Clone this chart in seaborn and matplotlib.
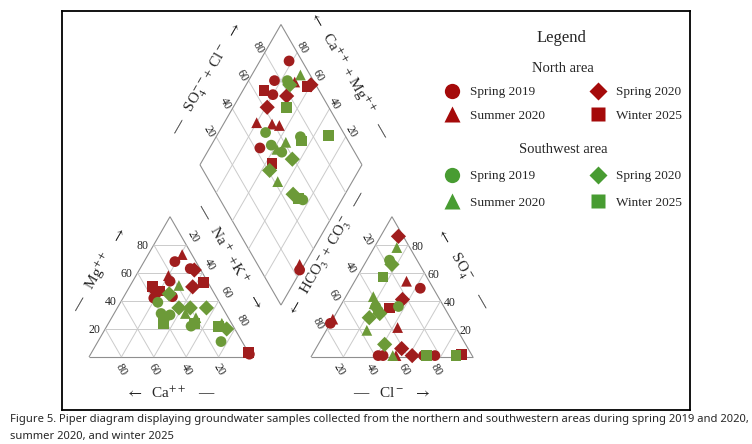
import numpy as np
import pandas as pd
import matplotlib
matplotlib.use('Agg')
import matplotlib.pyplot as plt
import seaborn as sns
from matplotlib.lines import Line2D


# Piper diagram of groundwater samples, north vs southwest area

RED = '#a01d1d'
GREEN = '#6c9a38'
LEG_RED = '#a50a0a'
LEG_GREEN = '#489c32'
PALETTE = {'North': RED, 'Southwest': GREEN}
MARKERS = {'Spring 2019': 'o', 'Spring 2020': 'D', 'Summer 2020': '^', 'Winter 2025': 's'}
SEASONS = ['Spring 2019', 'Spring 2020', 'Summer 2020', 'Winter 2025']


def rep(counts):
    out = []
    for s, n in zip(SEASONS, counts):
        out += [s] * n
    return out


# cation triangle (% meq), Na+K is the remainder
cat_area = ['North'] * 15 + ['Southwest'] * 18
cat_season = rep([6, 3, 2, 4]) + rep([6, 5, 4, 3])
cat_ca = [13, 6, 23, 39, 27, 0, 4, 11, 35, 6, 22, 3, 36, 33, 0,
          38, 40, 35, 40, 26, 13, 28, 27, 20, 10, 5, 19, 25, 20, 6, 42, 23, 9]
cat_mg = [68, 63, 54, 42, 43, 2, 62, 50, 46, 73, 58, 53, 50, 47, 3,
          39, 31, 30, 27, 22, 11, 45, 35, 35, 35, 20, 51, 31, 28, 24, 24, 24, 22]

# anion triangle (% meq), HCO3+CO3 is the remainder
an_area = ['North'] * 16 + ['Southwest'] * 16
an_season = rep([6, 4, 4, 2]) + rep([4, 4, 5, 3])
an_cl = [43, 0, 41, 44, 69, 76, 11, 36, 53, 62, 32, 0, 43, 52, 31, 92,
         14, 36, 22, 25, 17, 27, 22, 41, 14, 17, 20, 25, 50, 16, 71, 89]
an_so4 = [49, 24, 1, 1, 1, 1, 86, 41, 6, 1, 54, 27, 21, 1, 35, 2,
          69, 36, 36, 33, 66, 31, 28, 9, 78, 43, 38, 19, 1, 57, 1, 1]

# diamond field: SO4+Cl and Ca+Mg (%)
dia_area = ['North'] * 16 + ['Southwest'] * 18
dia_season = rep([5, 3, 5, 3]) + rep([6, 4, 4, 4])
dia_so4cl = [92, 76, 70, 43, 24, 97, 78, 62, 88, 50, 59, 63, 26, 66, 94, 45,
             84, 52, 72, 51, 55, 51, 84, 59, 41, 47, 94, 61, 42, 53, 74, 71, 90, 49]
dia_camg = [82, 84, 80, 69, 1, 60, 71, 79, 71, 80, 70, 65, 3, 87, 62, 56,
            76, 71, 48, 63, 54, 24, 73, 45, 55, 32, 70, 55, 46, 58, 67, 46, 31, 27]

H = np.sqrt(3) / 2
GAP = 0.37
PX = 1 / 162.0
SERIF = ['Liberation Serif', 'DejaVu Serif']
RA = r'$\rightarrow$'
LA = r'$\leftarrow$'


def cation_xy(ca, mg):
    ca, mg = np.asarray(ca, float), np.asarray(mg, float)
    na = 100 - ca - mg
    return (na + mg / 2) / 100, mg / 100 * H


def anion_xy(cl, so4):
    cl, so4 = np.asarray(cl, float), np.asarray(so4, float)
    return 1 + GAP + (cl + so4 / 2) / 100, so4 / 100 * H


def diamond_xy(a, c):
    a, c = np.asarray(a, float), np.asarray(c, float)
    return 1 + GAP / 2 + (a - c) / 200, GAP * H + (a + c) / 100 * H


def seg(ax, p, q, outer=False):
    ax.plot([p[0], q[0]], [p[1], q[1]], color='#8f8f8f' if outer else '#cbcbcb',
            lw=0.8 if outer else 0.7, zorder=1, solid_capstyle='butt')


def draw_grid(ax):
    for v in range(0, 100, 20):
        o = v == 0
        seg(ax, cation_xy(100 - v, v), cation_xy(0, v), o)
        seg(ax, cation_xy(v, 0), cation_xy(v, 100 - v), o)
        seg(ax, cation_xy(100 - v, 0), cation_xy(0, 100 - v), o)
        seg(ax, anion_xy(0, v), anion_xy(100 - v, v), o)
        seg(ax, anion_xy(v, 0), anion_xy(v, 100 - v), o)
        seg(ax, anion_xy(100 - v, 0), anion_xy(0, 100 - v), o)
    for v in range(0, 101, 20):
        o = v in (0, 100)
        seg(ax, diamond_xy(v, 0), diamond_xy(v, 100), o)
        seg(ax, diamond_xy(0, v), diamond_xy(100, v), o)


def tick(ax, p, dx, dy, s, rot=0, ha='center'):
    ax.text(p[0] + dx * PX, p[1] + dy * PX, s, rotation=rot, ha=ha, va='center',
            rotation_mode='anchor', fontsize=8.5, family=SERIF)


def draw_ticks(ax):
    for v in (20, 40, 60, 80):
        t = str(v)
        tick(ax, cation_xy(100 - v, v), -5, -1, t, ha='right')
        tick(ax, cation_xy(v, 0), 0, -13, t, rot=-60)
        tick(ax, cation_xy(0, 100 - v), 7, 8, t, rot=-60)
        tick(ax, anion_xy(0, 100 - v), -9, 5, t, rot=-60)
        tick(ax, anion_xy(100 - v, v), 3, -2, t, ha='left')
        tick(ax, anion_xy(v, 0), -4, -13, t, rot=-60)
        tick(ax, diamond_xy(v, 100), -7, 5, t, rot=-60)
        tick(ax, diamond_xy(100, v), 5, 5, t, rot=-60)


def title(ax, p0, p1, frac, normal, dist, s, rot):
    x = p0[0] + frac * (p1[0] - p0[0]) + normal[0] * dist * PX
    y = p0[1] + frac * (p1[1] - p0[1]) + normal[1] * dist * PX
    ax.text(x, y, s, rotation=rot, ha='center', va='center', rotation_mode='anchor',
            fontsize=11, family=SERIF)


def draw_titles(ax):
    L, R = (-H, 0.5), (H, 0.5)
    title(ax, cation_xy(100, 0), cation_xy(0, 100), 0.5, L, 34,
          '—   Mg$^{++}$   ' + RA, 60)
    title(ax, cation_xy(50, 0), cation_xy(50, 0), 0, (0, -1), 36,
          LA + '  Ca$^{++}$   —', 0)
    title(ax, cation_xy(0, 100), cation_xy(0, 0), 0.4, R, 32,
          '—   Na$^+$ +K$^+$   ' + RA, -60)
    title(ax, anion_xy(0, 0), anion_xy(0, 100), 0.6, L, 36,
          LA + '  HCO$_3^-$+ CO$_3^-$   —', 60)
    title(ax, anion_xy(0, 100), anion_xy(100, 0), 0.49, R, 34,
          LA + '   SO$_4^-$    —', -60)
    title(ax, anion_xy(50, 0), anion_xy(50, 0), 0, (0, -1), 36,
          '—   Cl$^-$  ' + RA, 0)
    title(ax, diamond_xy(0, 100), diamond_xy(100, 100), 0.48, L, 36,
          '—   SO$_4^{--}$+ Cl$^-$  ' + RA, 60)
    title(ax, diamond_xy(100, 100), diamond_xy(100, 0), 0.48, R, 33,
          LA + '  Ca$^{++}$ + Mg$^{++}$   —', -60)


def make_legend(fig, color, name, cy, spacing):
    order = ['Spring 2019', 'Summer 2020', 'Spring 2020', 'Winter 2025']
    sizes = {'o': 11, 'D': 9, '^': 11, 's': 10}
    hs = [Line2D([], [], ls='none', marker=MARKERS[s], color=color, mec='none',
                 markersize=sizes[MARKERS[s]]) for s in order]
    leg = fig.legend(hs, order, loc='center', bbox_to_anchor=(563 / 752, 1 - cy / 444),
                     ncol=2, frameon=False, title=name, title_fontsize=10.5,
                     prop={'family': SERIF, 'size': 9.5}, handlelength=1.2,
                     handletextpad=0.8, columnspacing=3.4, labelspacing=spacing,
                     borderpad=0)
    leg.get_title().set_family(SERIF)
    return leg


def plot():
    sns.set_style('white')
    plt.rcParams['font.family'] = SERIF
    plt.rcParams['mathtext.fontset'] = 'stix'

    cat = pd.DataFrame({'area': cat_area, 'season': cat_season})
    cat['x'], cat['y'] = cation_xy(cat_ca, cat_mg)
    an = pd.DataFrame({'area': an_area, 'season': an_season})
    an['x'], an['y'] = anion_xy(an_cl, an_so4)
    dia = pd.DataFrame({'area': dia_area, 'season': dia_season})
    dia['x'], dia['y'] = diamond_xy(dia_so4cl, dia_camg)
    pts = pd.concat([cat, an, dia], ignore_index=True)

    fig = plt.figure(figsize=(7.52, 4.44), dpi=100)
    ax = fig.add_axes([62 / 752, 34 / 444, 628 / 752, 399 / 444])
    ax.set_xlim(-27 * PX, 601 * PX)
    ax.set_ylim(-53 * PX, 346 * PX)
    ax.set_xticks([])
    ax.set_yticks([])
    for sp in ax.spines.values():
        sp.set_visible(True)
        sp.set_color('black')
        sp.set_linewidth(1.3)

    draw_grid(ax)
    sns.scatterplot(data=pts, x='x', y='y', hue='area', style='season',
                    palette=PALETTE, markers=MARKERS, s=60, linewidth=0,
                    legend=False, ax=ax, zorder=3)
    ax.set_xlabel('')
    ax.set_ylabel('')
    draw_ticks(ax)
    draw_titles(ax)

    fig.text(561 / 752, 1 - 38 / 444, 'Legend', ha='center', va='center',
             fontsize=12, family=SERIF)
    make_legend(fig, LEG_RED, 'North area', 92, 0.85)
    make_legend(fig, LEG_GREEN, 'Southwest area', 176, 1.05)

    # caption, scaled to the width of the page
    cap_font = ['Liberation Sans Narrow', 'Noto Sans', 'DejaVu Sans']
    line1 = (' Piper diagram displaying groundwater samples collected from the northern '
             'and southwestern areas during spring 2019 and 2020,')
    fs = 8.5
    t1 = fig.text(10 / 752, 1 - 419 / 444, 'Figure 5.', fontweight='bold', fontsize=fs,
                  family=cap_font, va='center')
    t2 = fig.text(0, 1 - 419 / 444, line1, fontsize=fs, family=cap_font, va='center')
    t3 = fig.text(10 / 752, 1 - 436 / 444, 'summer 2020, and winter 2025', fontsize=fs,
                  family=cap_font, va='center')
    r = fig.canvas.get_renderer()
    w = t1.get_window_extent(r).width + t2.get_window_extent(r).width
    fs = fs * 738 / w
    for t in (t1, t2, t3):
        t.set_fontsize(fs)
    w1 = t1.get_window_extent(r).width
    t2.set_x((10 + w1) / 752)

    fig.savefig('out.png', dpi=100)


if __name__ == '__main__':
    plot()
